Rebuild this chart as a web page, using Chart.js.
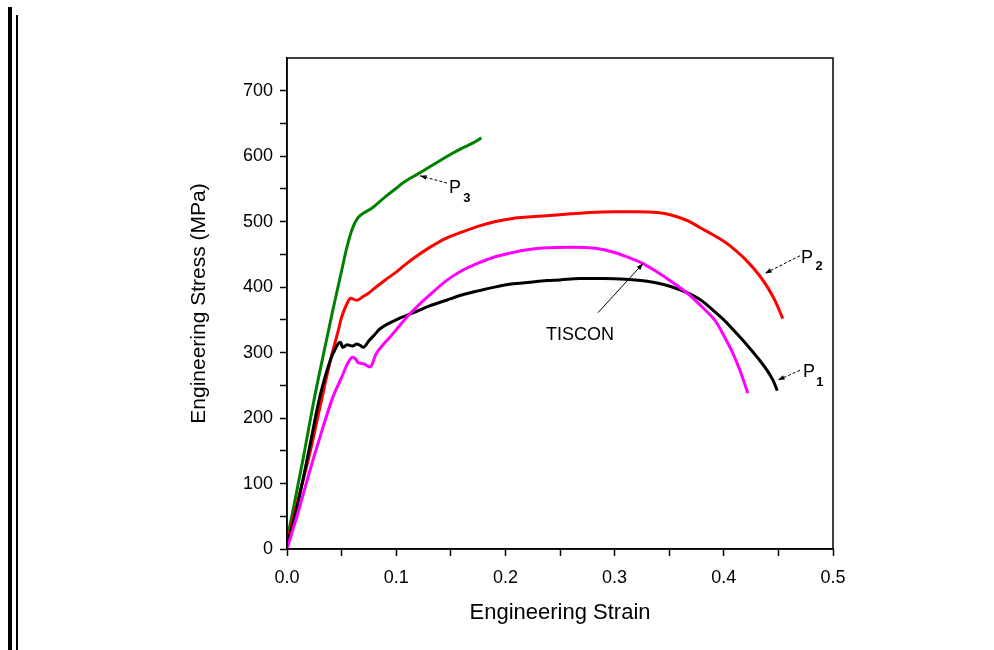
<!DOCTYPE html>
<html>
<head>
<meta charset="utf-8">
<script src="https://cdn.jsdelivr.net/npm/chart.js@4.4.0/dist/chart.umd.min.js"></script>
<style>
  body { margin: 0; background: #fff; }
  #wrap { position: relative; width: 994px; height: 650px; overflow: hidden; }
  .barra1 { position: absolute; left: 8px; top: 7px; width: 4px; height: 643px; background: #000; }
  .barra2 { position: absolute; left: 16px; top: 15px; width: 2px; height: 635px; background: #000; }
  canvas { position: absolute; left: 0; top: 0; }
</style>
</head>
<body>
<div id="wrap">
  <div class="barra1"></div>
  <div class="barra2"></div>
  <canvas id="grafico" width="994" height="650"></canvas>
</div>
<script>
const xTickLabels = ["0.0", "0.1", "0.2", "0.3", "0.4", "0.5"];
const yTickLabels = ["0", "100", "200", "300", "400", "500", "600", "700"];

// P3 (green)
const p3Strain = [0, 0.005, 0.015, 0.025, 0.035, 0.042, 0.05, 0.055, 0.06, 0.065, 0.07, 0.078, 0.09, 0.1, 0.106, 0.12, 0.13, 0.14, 0.15, 0.16, 0.17, 0.178];
const p3Stress = [15, 55, 140, 230, 310, 365, 425, 462, 490, 506, 513, 521, 538, 551, 559, 573, 583, 593, 603, 612, 620, 628];

// P2 (red)
const p2Strain = [0, 0.01, 0.02, 0.03, 0.04, 0.047, 0.05, 0.055, 0.058, 0.064, 0.07, 0.074, 0.08, 0.09, 0.1, 0.108, 0.115, 0.13, 0.146, 0.16, 0.177, 0.19, 0.207, 0.22, 0.238, 0.26, 0.277, 0.3, 0.32, 0.339, 0.35, 0.36, 0.37, 0.378, 0.39, 0.4, 0.408, 0.42, 0.433, 0.44, 0.447, 0.454];
const p2Stress = [10, 75, 140, 215, 290, 334, 354, 375, 383, 380, 386, 390, 398, 411, 423, 434, 443, 460, 475, 484, 494, 500, 505, 507, 509, 512, 514, 515, 515, 514, 511, 506, 499, 491, 480, 470, 460, 442, 417, 400, 379, 352];

// P1 (black)
const p1Strain = [0, 0.01, 0.02, 0.03, 0.04, 0.045, 0.047, 0.049, 0.051, 0.055, 0.06, 0.064, 0.067, 0.07, 0.075, 0.08, 0.085, 0.1, 0.116, 0.13, 0.146, 0.16, 0.177, 0.19, 0.207, 0.22, 0.238, 0.25, 0.268, 0.29, 0.31, 0.33, 0.345, 0.36, 0.372, 0.38, 0.39, 0.4, 0.408, 0.42, 0.433, 0.44, 0.445, 0.449];
const p1Stress = [5, 70, 150, 232, 290, 308, 314, 316, 308, 312, 310, 313, 311, 308, 318, 327, 336, 350, 361, 371, 380, 388, 395, 400, 405, 407, 410, 411, 413, 413, 412, 409, 404, 396, 387, 379, 365, 350, 336, 314, 288, 272, 258, 242];

// TISCON (magenta)
const tisStrain = [0, 0.01, 0.021, 0.03, 0.042, 0.05, 0.056, 0.06, 0.063, 0.065, 0.07, 0.076, 0.078, 0.081, 0.088, 0.094, 0.1, 0.113, 0.13, 0.146, 0.16, 0.177, 0.19, 0.207, 0.22, 0.238, 0.26, 0.284, 0.3, 0.31, 0.326, 0.34, 0.35, 0.36, 0.372, 0.38, 0.39, 0.394, 0.4, 0.408, 0.415, 0.422];
const tisStress = [0, 55, 120, 170, 232, 262, 285, 293, 290, 285, 283, 278, 282, 296, 312, 323, 335, 360, 387, 410, 425, 438, 446, 453, 457, 460, 461, 459, 453, 447, 436, 422, 411, 399, 383, 370, 353, 344, 326, 300, 272, 238];

// labels with arrows, in data units
const notas = [
  { texto: "P", sub: "3", pos: [0.1538, 552], subPos: [0.1648, 535], de: [0.1465, 559], para: [0.1218, 570], tracejado: true },
  { texto: "P", sub: "2", pos: [0.4762, 445], subPos: [0.4872, 431], de: [0.4698, 448], para: [0.4377, 421], tracejado: true },
  { texto: "P", sub: "1", pos: [0.478, 271], subPos: [0.488, 255], de: [0.4698, 273], para: [0.4496, 258], tracejado: true },
  { texto: "TISCON", sub: "", pos: [0.2683, 327], de: [0.2848, 361], para: [0.326, 436], tracejado: false }
];

function pontos(xs, ys) {
  return xs.map((x, i) => ({ x: x, y: ys[i] }));
}

function serie(label, xs, ys, cor) {
  return {
    label: label,
    data: pontos(xs, ys),
    borderColor: cor,
    borderWidth: 3,
    pointRadius: 0,
    fill: false,
    cubicInterpolationMode: "monotone"
  };
}

const moldura = {
  id: "moldura",
  afterDraw(chart) {
    const { ctx, chartArea } = chart;
    ctx.save();
    ctx.strokeStyle = "#000";
    ctx.lineWidth = 1.5;
    ctx.strokeRect(chartArea.left, chartArea.top, chartArea.right - chartArea.left, chartArea.bottom - chartArea.top);
    ctx.restore();
  }
};

const anotacoes = {
  id: "anotacoes",
  afterDatasetsDraw(chart) {
    const { ctx } = chart;
    const sx = chart.scales.x;
    const sy = chart.scales.y;
    ctx.save();
    notas.forEach((n) => {
      const x1 = sx.getPixelForValue(n.de[0]);
      const y1 = sy.getPixelForValue(n.de[1]);
      const x2 = sx.getPixelForValue(n.para[0]);
      const y2 = sy.getPixelForValue(n.para[1]);
      ctx.strokeStyle = "#000";
      ctx.lineWidth = 1;
      ctx.setLineDash(n.tracejado ? [3, 2] : []);
      ctx.beginPath();
      ctx.moveTo(x1, y1);
      ctx.lineTo(x2, y2);
      ctx.stroke();
      ctx.setLineDash([]);
      const ang = Math.atan2(y2 - y1, x2 - x1);
      ctx.fillStyle = "#000";
      ctx.beginPath();
      ctx.moveTo(x2, y2);
      ctx.lineTo(x2 - 7 * Math.cos(ang - 0.35), y2 - 7 * Math.sin(ang - 0.35));
      ctx.lineTo(x2 - 7 * Math.cos(ang + 0.35), y2 - 7 * Math.sin(ang + 0.35));
      ctx.closePath();
      ctx.fill();

      ctx.textAlign = "center";
      ctx.textBaseline = "middle";
      ctx.font = '18px "Liberation Sans", Arial, sans-serif';
      ctx.fillText(n.texto, sx.getPixelForValue(n.pos[0]), sy.getPixelForValue(n.pos[1]));
      if (n.sub) {
        ctx.font = 'bold 13px "Liberation Sans", Arial, sans-serif';
        ctx.fillText(n.sub, sx.getPixelForValue(n.subPos[0]), sy.getPixelForValue(n.subPos[1]));
      }
    });
    ctx.restore();
  }
};

const fonteTicks = { family: '"Liberation Sans", Arial, sans-serif', size: 18 };
const fonteTituloX = { family: '"Liberation Sans", Arial, sans-serif', size: 22 };
const fonteTituloY = { family: '"Liberation Sans", Arial, sans-serif', size: 21 };

const ctx = document.getElementById("grafico").getContext("2d");
const chart = new Chart(ctx, {
  type: "line",
  data: {
    datasets: [
      serie("TISCON", tisStrain, tisStress, "#ff00ff"),
      serie("P1", p1Strain, p1Stress, "#000000"),
      serie("P2", p2Strain, p2Stress, "#ff0000"),
      serie("P3", p3Strain, p3Stress, "#008000")
    ]
  },
  options: {
    responsive: false,
    animation: false,
    devicePixelRatio: 1,
    layout: { padding: { left: 180, top: 58, right: 161, bottom: 16 } },
    plugins: {
      legend: { display: false },
      tooltip: { enabled: false }
    },
    scales: {
      x: {
        type: "linear",
        min: 0,
        max: 0.5,
        afterFit: (scale) => { scale.height = 85; },
        border: { color: "#000", width: 1.5 },
        grid: { drawOnChartArea: false, drawTicks: true, tickLength: 7, tickColor: "#000", tickWidth: 1.5 },
        ticks: {
          stepSize: 0.05,
          autoSkip: false,
          maxRotation: 0,
          color: "#000",
          padding: 11,
          font: fonteTicks,
          callback: (val) => {
            const i = Math.round(val * 10);
            return Math.abs(val * 10 - i) < 1e-6 ? xTickLabels[i] : "";
          }
        },
        title: {
          display: true,
          text: "Engineering Strain",
          color: "#000",
          font: fonteTituloX,
          padding: { top: 4, bottom: 8 }
        }
      },
      y: {
        min: 0,
        max: 750,
        afterFit: (scale) => { scale.width = 107; },
        afterBuildTicks: (scale) => { scale.ticks = scale.ticks.filter((t) => t.value < 750); },
        border: { color: "#000", width: 1.5 },
        grid: { drawOnChartArea: false, drawTicks: true, tickLength: 7, tickColor: "#000", tickWidth: 1.5 },
        ticks: {
          stepSize: 50,
          autoSkip: false,
          color: "#000",
          padding: 7,
          font: fonteTicks,
          callback: (val) => (val % 100 === 0 ? yTickLabels[val / 100] : "")
        },
        title: {
          display: true,
          text: "Engineering Stress (MPa)",
          color: "#000",
          font: fonteTituloY,
          padding: { top: 7, bottom: 4 }
        }
      }
    }
  },
  plugins: [moldura, anotacoes]
});
</script>
</body>
</html>
